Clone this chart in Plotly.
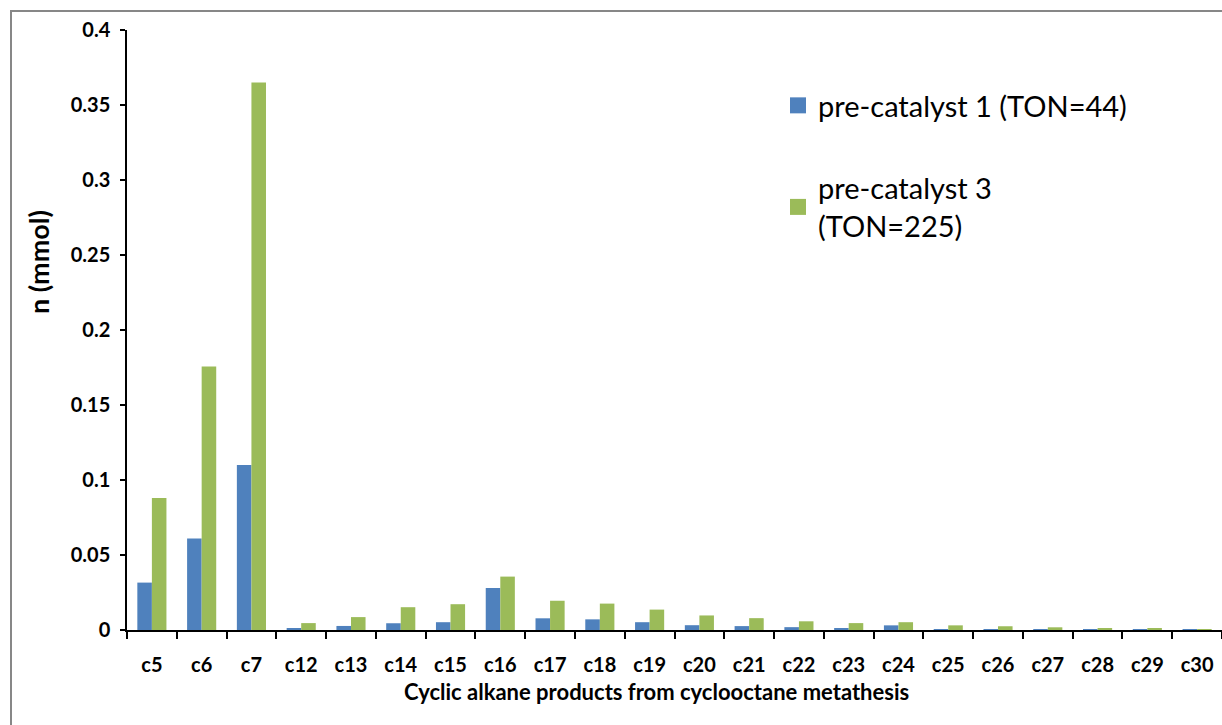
import plotly.graph_objects as go

categories = ["c5", "c6", "c7", "c12", "c13", "c14", "c15", "c16", "c17", "c18", "c19",
              "c20", "c21", "c22", "c23", "c24", "c25", "c26", "c27", "c28", "c29", "c30"]
cat1_values = [0.0316, 0.061, 0.110, 0.0011, 0.0027, 0.0045, 0.0052, 0.028, 0.0078, 0.0071,
               0.0052, 0.0032, 0.0026, 0.0019, 0.0011, 0.0031, 0.0005, 0.0004, 0.0003,
               0.0002, 0.0002, 0.0002]
cat3_values = [0.088, 0.1756, 0.365, 0.0046, 0.0086, 0.0152, 0.0172, 0.0356, 0.0195, 0.0176,
               0.0136, 0.0097, 0.0079, 0.0058, 0.0046, 0.0052, 0.0031, 0.0025, 0.0018,
               0.0011, 0.0010, 0.0005]
series_names = ["pre-catalyst 1 (TON=44)", "pre-catalyst 3<br>(TON=225)"]
colors = ["#4F81BD", "#9BBB59"]
y_ticks = [0, 0.05, 0.1, 0.15, 0.2, 0.25, 0.3, 0.35, 0.4]

FONT = "Lato"

fig = go.Figure()
for name, vals, col, grp in zip(series_names, [cat1_values, cat3_values], colors, ["a", "b"]):
    fig.add_trace(go.Bar(x=categories, y=vals, name=name, marker_color=col,
                         marker_line_width=0, legendgroup=grp, showlegend=False))
    # legend proxy (larger square swatch)
    fig.add_trace(go.Scatter(x=[None], y=[None], mode="markers", name=name,
                             marker=dict(symbol="square", size=20, color=col),
                             legendgroup=grp, showlegend=True))

L, R, T, B = 127, 0, 30, 95
W, H = 1222, 725
pw, ph = W - L - R, H - T - B

fig.update_layout(
    width=W, height=H,
    margin=dict(l=L, r=R, t=T, b=B, pad=0),
    paper_bgcolor="white", plot_bgcolor="white",
    barmode="group", bargap=0.415, bargroupgap=0,
    font=dict(family=FONT, color="black"),
    legend=dict(x=(778 - L) / pw, y=1 - (80 - T) / ph, xanchor="left", yanchor="top",
                font=dict(family=FONT, size=29, color="black"),
                traceorder="grouped", tracegroupgap=42, bgcolor="rgba(0,0,0,0)",
                itemsizing="trace"),
    xaxis=dict(type="category", categoryorder="array", categoryarray=categories,
               showline=True, linecolor="black", linewidth=2,
               ticks="outside", ticklen=7, tickwidth=2, tickcolor="black",
               tickson="boundaries", showgrid=False,
               tickfont=dict(family=FONT, size=20, color="black", weight="bold"),
               ticklabelstandoff=16),
    yaxis=dict(range=[0, 0.4], tickvals=y_ticks, ticktext=[f"{v:g}" for v in y_ticks],
               showline=True, linecolor="black", linewidth=1.5,
               ticks="outside", ticklen=5, tickwidth=1.5, tickcolor="black",
               showgrid=False, zeroline=False,
               tickfont=dict(family=FONT, size=20, color="black", weight="bold"),
               ticklabelstandoff=6),
    annotations=[
        dict(text="<b>Cyclic alkane products from cyclooctane metathesis</b>",
             xref="paper", yref="paper", x=(656 - L) / pw, y=1 - (691 - T) / ph,
             xanchor="center", yanchor="middle", showarrow=False,
             font=dict(family=FONT, size=22, color="black")),
        dict(text="<b>n (mmol)</b>", textangle=-90,
             xref="paper", yref="paper", x=(38 - L) / pw, y=1 - (262 - T) / ph,
             xanchor="center", yanchor="middle", showarrow=False,
             font=dict(family=FONT, size=27, color="black")),
    ],
    shapes=[dict(type="rect", xref="paper", yref="paper",
                 x0=(11 - L) / pw, x1=1.2, y0=-0.5, y1=1 + (T - 11) / ph,
                 line=dict(color="#878787", width=2), fillcolor="rgba(0,0,0,0)",
                 layer="below")],
)

fig.write_html("out.html")
